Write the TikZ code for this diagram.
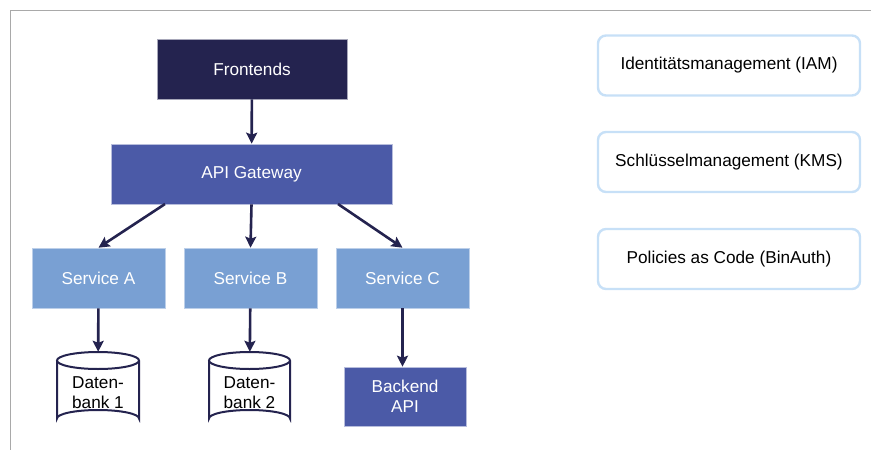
\documentclass[tikz,border=0pt]{standalone}
\usepackage{fontspec}
\setmainfont{Liberation Sans}
\usetikzlibrary{arrows.meta}
\definecolor{navy}{HTML}{24234F}
\definecolor{midblue}{HTML}{4B5AA7}
\definecolor{lightblue}{HTML}{79A0D3}
\definecolor{paleblue}{HTML}{C7E0F7}
\definecolor{framegray}{HTML}{A9A9A9}
\begin{document}
\begin{tikzpicture}[x=1pt,y=-1pt,
  every node/.style={font=\fontsize{17.2}{20.5}\selectfont, inner sep=0pt, align=center},
  boxdark/.style={fill=navy, draw=navy!40!white, line width=0.6pt, text=white},
  boxmid/.style={fill=midblue, draw=midblue!40!white, line width=0.6pt, text=white},
  boxlight/.style={fill=lightblue, draw=lightblue!50!white, line width=0.6pt, text=white},
  sidebox/.style={draw=paleblue, line width=2.4pt, rounded corners=8pt, fill=white, text=black, minimum width=262pt},
  dbnode/.style={text=black},
  arr/.style={draw=navy, line width=2.6pt, -{Stealth[length=11pt,width=11pt,inset=2pt]}},
  dbline/.style={draw=navy, line width=2pt, fill=white}
]
\useasboundingbox (0,0) rectangle (871,450);
% frame
\draw[framegray, line width=1pt] (10,450) -- (10,10) -- (871,10);

% nodes
\node[boxdark, minimum width=190pt, minimum height=60pt] (fe) at (252,69) {Frontends};
\node[boxmid, minimum width=281pt, minimum height=60pt] (api) at (251.5,174) {API Gateway};
\node[boxlight, minimum width=133pt, minimum height=60pt] (sa) at (98.5,278) {Service A};
\node[boxlight, minimum width=133pt, minimum height=60pt] (sb) at (250.5,278) {Service B};
\node[boxlight, minimum width=133pt, minimum height=60pt] (sc) at (402.5,278) {Service C};
\node[boxmid, minimum width=122pt, minimum height=59pt] (be) at (405,396.5) {Backend\\API};

% cylinders
\draw[dbline] (57,360.5) -- (57,418.5) arc[start angle=180, end angle=360, x radius=41, y radius=8.5] -- (139,360.5);
\draw[dbline] (98,360.5) ellipse[x radius=41, y radius=8.5];
\draw[dbline] (209,360.5) -- (209,418.5) arc[start angle=180, end angle=360, x radius=40.5, y radius=8.5] -- (290,360.5);
\draw[dbline] (249.5,360.5) ellipse[x radius=40.5, y radius=8.5];
\node[minimum width=82pt, minimum height=75pt] (db1) at (98,389.5) {};
\node[minimum width=81pt, minimum height=75pt] (db2) at (249.5,389.5) {};
\node[dbnode] (db1t) at (98,392.5) {Daten-\\bank 1};
\node[dbnode] (db2t) at (249.5,392.5) {Daten-\\bank 2};

% side boxes
\node[sidebox, minimum height=60pt] (iam) at (729,65.5) {Identitätsmanagement (IAM)};
\node[sidebox, minimum height=60pt] (kms) at (729,162) {Schlüsselmanagement (KMS)};
\node[sidebox, minimum height=60pt] (pac) at (729,259) {Policies as Code (BinAuth)};

% connectors
\coordinate (a1) at (165,204);
\coordinate (a3) at (338,204);
\draw[arr] (fe) -- (api);
\draw[arr] (a1) -- (sa.north);
\draw[arr] (api.south) -- (sb.north);
\draw[arr] (a3) -- (sc.north);
\draw[arr] (sa) -- (db1);
\draw[arr] (sb) -- (db2);
\draw[arr] (sc.south) -- (be.north -| sc.south);
\end{tikzpicture}
\end{document}
